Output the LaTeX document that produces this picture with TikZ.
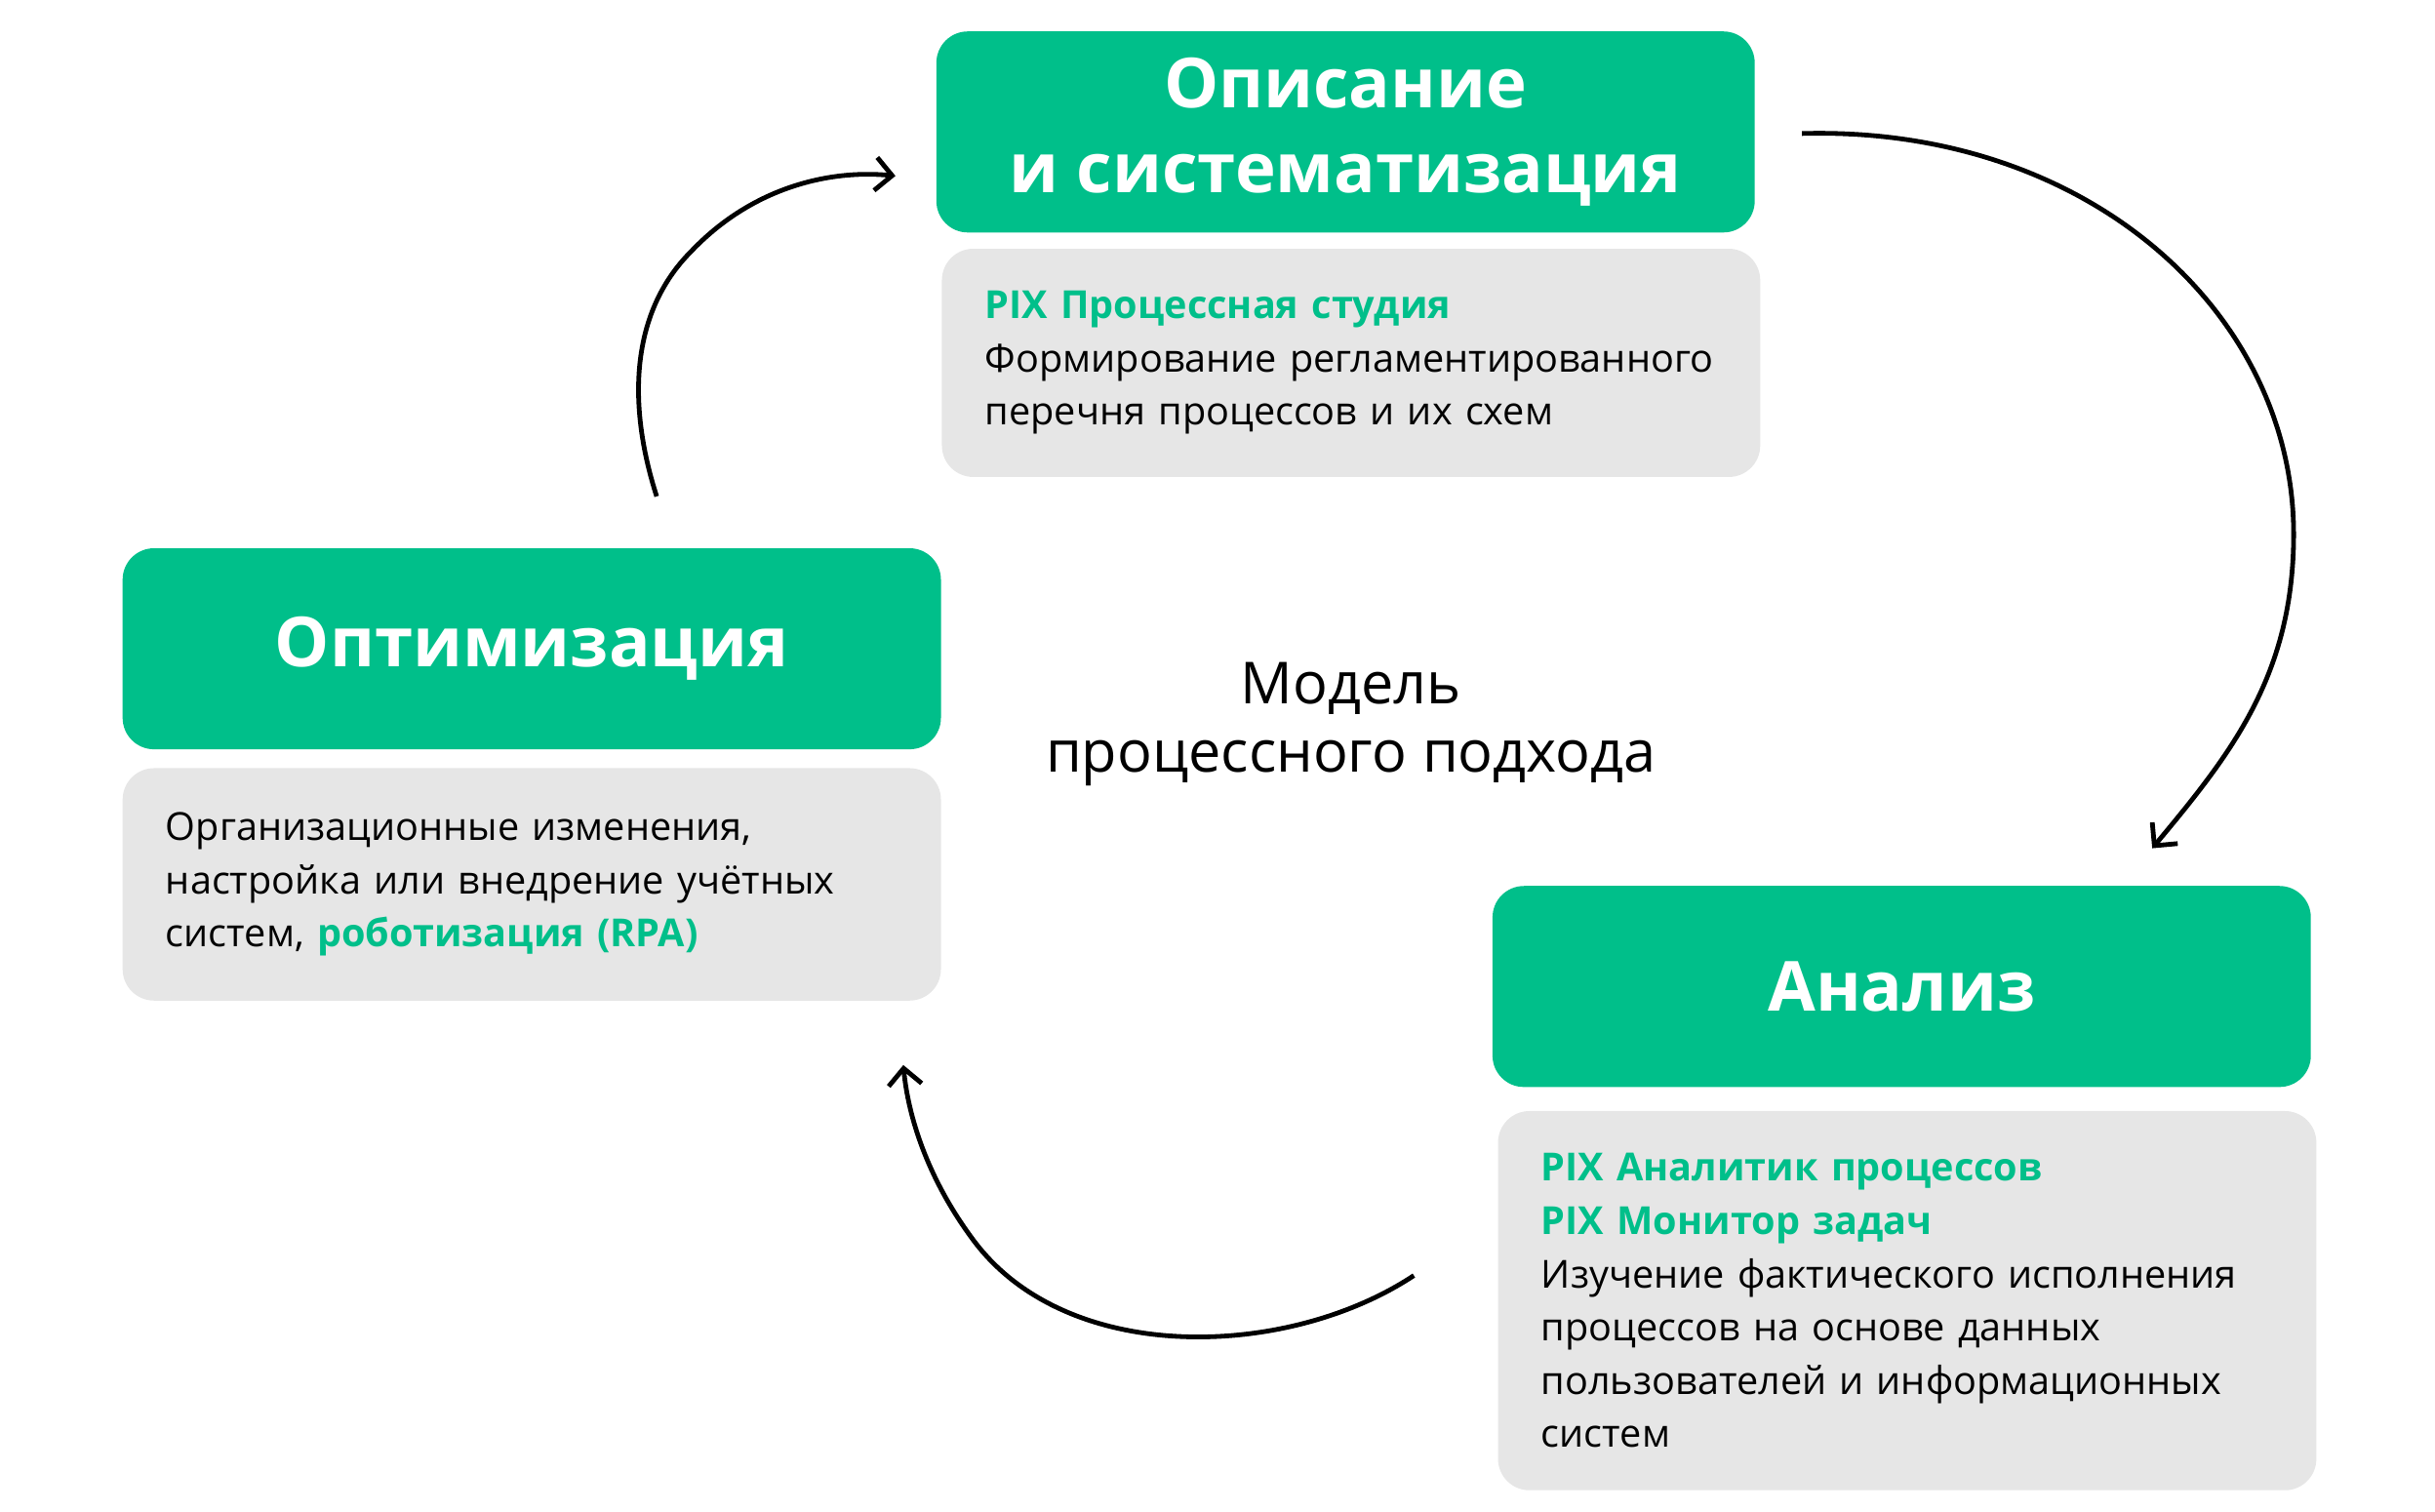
\documentclass[tikz,border=0pt]{standalone}
\usepackage{fontspec}
\setmainfont{Open Sans}
\usetikzlibrary{arrows.meta}
\definecolor{pixgreen}{HTML}{00BF8A}
\definecolor{pixgrey}{HTML}{E6E6E6}
\newcommand{\pixname}[1]{\textbf{\textcolor{pixgreen}{#1}}}
\tikzset{
  stage/.style={fill=pixgreen, rounded corners=0.4cm, minimum width=10.42cm,
    minimum height=2.56cm, text=white, align=center,
    font=\fontsize{25}{31}\selectfont\bfseries},
  note/.style={fill=pixgrey, rounded corners=0.4cm, minimum width=10.42cm,
    text width=9.32cm, inner sep=0.54cm, align=left,
    font=\fontsize{14}{19.3}\selectfont},
  cycle/.style={line width=1.7pt, -{Straight Barb[length=6pt,width=12pt]}}
}
\begin{document}
\begin{tikzpicture}[x=0.02cm,y=-0.02cm]
\useasboundingbox (0,0) rectangle (1550,962);
% stages
\node[stage] (opis) at (856.5,84) {Описание\\и систематизация};
\node[stage] (opt) at (338.5,413) {Оптимизация};
\node[stage] (anal) at (1210.5,628) {Анализ};
% notes
\node[note, minimum height=2.56cm] (opisnote) at (860,231)
  {\pixname{PIX Процессная студия}\\Формирование регламентированного\\перечня процессов и их схем};
\node[note, minimum height=2.96cm] (optnote) at (338.5,563)
  {Организационные изменения,\\настройка или внедрение учётных\\систем, \pixname{роботизация (RPA)}};
\node[note, minimum height=4.76cm] (analnote) at (1214,828)
  {\pixname{PIX Аналитик процессов}\\\pixname{PIX Монитор задач}\\Изучение фактического исполнения\\процессов на основе данных\\пользователей и информационных\\систем};
% centre
\node[align=center, font=\fontsize{21}{24.5}\selectfont] (model) at (860,461)
  {Модель\\процессного подхода};
% arrows
\coordinate (a1) at (1147,85);
\coordinate (a2) at (1370,540);
\coordinate (b1) at (900,812);
\coordinate (b2) at (575,678);
\coordinate (c1) at (418,316);
\coordinate (c2) at (570,112);
\draw[cycle] (a1) .. controls (1330,80) and (1460,200) .. (1460,340)
  .. controls (1460,430) and (1420,480) .. (a2);
\draw[cycle] (b1) .. controls (820,865) and (680,870) .. (620,790)
  .. controls (590,750) and (578,710) .. (b2);
\draw[cycle] (c1) .. controls (400,260) and (400,200) .. (440,160)
  .. controls (480,118) and (530,108) .. (c2);
\end{tikzpicture}
\end{document}
